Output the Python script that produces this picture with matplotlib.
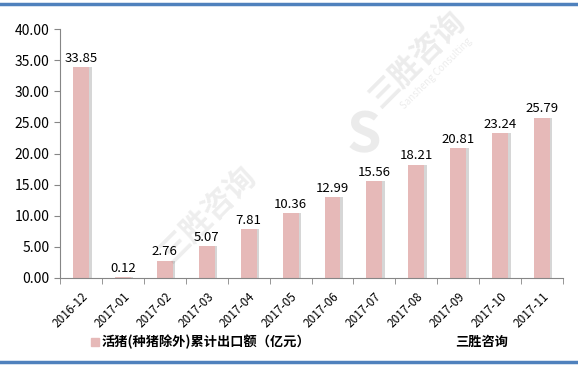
import matplotlib.pyplot as plt
import numpy as np

plt.rcParams['font.family'] = ['Noto Sans CJK SC', 'DejaVu Sans']

months = ['2016-12', '2017-01', '2017-02', '2017-03', '2017-04', '2017-05',
          '2017-06', '2017-07', '2017-08', '2017-09', '2017-10', '2017-11']
values = [33.85, 0.12, 2.76, 5.07, 7.81, 10.36, 12.99, 15.56, 18.21, 20.81, 23.24, 25.79]
series_name = '活猪(种猪除外)累计出口额（亿元）'
source = '三胜咨询'

fig = plt.figure(figsize=(5.78, 3.69), dpi=100)
ax = fig.add_axes([0.104, 0.247, 0.870, 0.674])

x = np.arange(len(months))
w = 0.38
# 阴影
ax.bar(x + 0.06, values, width=w, color='#d6d6d6', zorder=1)
ax.bar(x, values, width=w, color='#e6b9b8', zorder=2)

for xi, v in zip(x, values):
    ax.text(xi, v + 0.4, '%.2f' % v, ha='center', va='bottom', fontsize=9.5, zorder=3)

ax.set_xlim(-0.5, len(months) - 0.5)
ax.set_ylim(0, 40)
ax.set_yticks(np.arange(0, 41, 5))
ax.set_yticklabels(['%.2f' % t for t in np.arange(0, 41, 5)], fontsize=10)
ax.set_xticks(x)
ax.set_xticklabels(months, rotation=45, ha='right', rotation_mode='anchor', fontsize=8.5)
ax.tick_params(axis='x', length=0, pad=9)
ax.set_xticks(np.arange(-0.5, len(months)), minor=True)
ax.tick_params(axis='x', which='minor', length=4, color='#868686')
ax.tick_params(axis='y', length=4, color='#868686')
for s in ['top', 'right']:
    ax.spines[s].set_visible(False)
for s in ['left', 'bottom']:
    ax.spines[s].set_color('#868686')

# 水印
fig.text(0.72, 0.84, '三胜咨询', rotation=45, fontsize=22, color='#000000', alpha=0.08,
         ha='center', va='center', fontweight='bold')
fig.text(0.755, 0.80, 'Sansheng Consulting', rotation=45, fontsize=7,
         color='#000000', alpha=0.08, ha='center', va='center')
fig.text(0.63, 0.63, 'S', fontsize=40, color='#000000', alpha=0.08,
         ha='center', va='center', fontweight='bold')
fig.text(0.36, 0.42, '三胜咨询', rotation=45, fontsize=22, color='#000000', alpha=0.07,
         ha='center', va='center', fontweight='bold')

# 图例
fig.patches.append(plt.Rectangle((0.157, 0.063), 0.014, 0.022, transform=fig.transFigure,
                                 color='#e6b9b8'))
fig.text(0.176, 0.074, series_name, fontsize=9.5, fontweight='bold', va='center')
fig.text(0.787, 0.074, source, fontsize=9.5, fontweight='bold', va='center')

# 边框线
fig.add_artist(plt.Line2D([0, 1], [0.99, 0.99], transform=fig.transFigure,
                          color='#4f81bd', linewidth=2.5))
fig.add_artist(plt.Line2D([0, 1], [0.018, 0.018], transform=fig.transFigure,
                          color='#4f81bd', linewidth=2.5))

fig.savefig('out.png', dpi=100)
